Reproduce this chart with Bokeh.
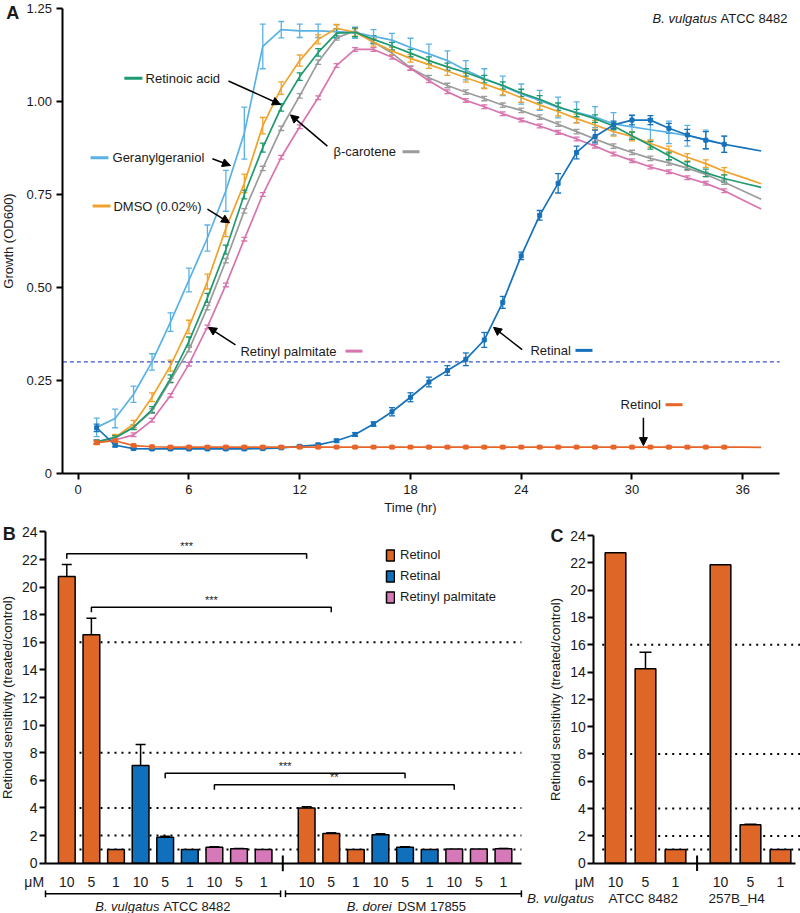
from bokeh.plotting import figure
from bokeh.layouts import column, row
from bokeh.models import (ColumnDataSource, FixedTicker, Range1d, Whisker, TeeHead,
                          Arrow, NormalHead, Legend, LegendItem)
from bokeh.embed import file_html
from bokeh.resources import INLINE
from bokeh.core.properties import value

FONT = "Liberation Sans"
INK = "#1a1a1a"

# ---------------- Panel A data (OD600 growth curves) ----------------
hours = list(range(1, 38))          # time points, hr
hours_err = list(range(1, 36))      # time points with error bars
time_ticks = [0, 6, 12, 18, 24, 30, 36]
od_ticks = [0, 0.25, 0.5, 0.75, 1.0, 1.25]
od_labels = ["0", "0.25", "0.50", "0.75", "1.00", "1.25"]

geranylgeraniol = [0.124, 0.148, 0.213, 0.30, 0.407, 0.52, 0.633, 0.76, 0.915, 1.148,
                   1.193, 1.19, 1.19, 1.188, 1.185, 1.175, 1.165, 1.145, 1.128, 1.11,
                   1.084, 1.062, 1.042, 1.02, 1.003, 0.984, 0.971, 0.958, 0.94, 0.932,
                   0.924, 0.917, 0.908, 0.898, 0.885]
geranylgeraniol_err = [0.025, 0.025, 0.022, 0.022, 0.025, 0.032, 0.035, 0.055, 0.07, 0.06,
                       0.022, 0.018, 0.018, 0.018, 0.015, 0.018, 0.018, 0.025, 0.026, 0.026,
                       0.026, 0.026, 0.026, 0.027, 0.027, 0.028, 0.028, 0.028, 0.03, 0.03,
                       0.03, 0.03, 0.028, 0.025, 0.022]
dmso = [0.083, 0.097, 0.133, 0.205, 0.29, 0.394, 0.516, 0.659, 0.78, 0.935,
        1.036, 1.11, 1.167, 1.197, 1.186, 1.159, 1.136, 1.116, 1.099, 1.082,
        1.064, 1.047, 1.03, 1.01, 0.991, 0.973, 0.954, 0.937, 0.919, 0.906,
        0.887, 0.87, 0.85, 0.833, 0.8125, 0.796, 0.779]
dmso_err = [0.005, 0.008, 0.01, 0.012, 0.015, 0.018, 0.02, 0.022, 0.025, 0.022,
            0.017, 0.015, 0.012, 0.01, 0.01, 0.01, 0.01, 0.01, 0.01, 0.012,
            0.012, 0.012, 0.012, 0.012, 0.012, 0.012, 0.012, 0.012, 0.012, 0.012,
            0.01, 0.01, 0.01, 0.01, 0.01]
retinoic_acid = [0.085, 0.097, 0.124, 0.172, 0.255, 0.355, 0.472, 0.602, 0.75, 0.876,
                 0.984, 1.067, 1.132, 1.184, 1.186, 1.167, 1.149, 1.13, 1.11, 1.093,
                 1.078, 1.06, 1.043, 1.023, 1.006, 0.986, 0.969, 0.954, 0.934, 0.908,
                 0.882, 0.854, 0.828, 0.808, 0.793, 0.781, 0.769]
retinoic_acid_err = [0.005, 0.005, 0.006, 0.008, 0.01, 0.012, 0.012, 0.012, 0.012, 0.012,
                     0.01, 0.01, 0.01, 0.012, 0.012, 0.01, 0.01, 0.01, 0.01, 0.01,
                     0.01, 0.01, 0.01, 0.01, 0.01, 0.01, 0.01, 0.01, 0.01, 0.01,
                     0.01, 0.01, 0.01, 0.01, 0.01]
beta_carotene = [0.085, 0.095, 0.125, 0.168, 0.25, 0.333, 0.446, 0.572, 0.706, 0.82,
                 0.928, 1.015, 1.106, 1.171, 1.19, 1.16, 1.13, 1.09, 1.064, 1.043,
                 1.025, 1.008, 0.99, 0.976, 0.958, 0.939, 0.919, 0.899, 0.88, 0.863,
                 0.847, 0.835, 0.821, 0.804, 0.783, 0.76, 0.737]
beta_carotene_err = [0.006] * 35
retinyl_palmitate = [0.085, 0.09, 0.104, 0.143, 0.21, 0.294, 0.394, 0.507, 0.63, 0.75,
                     0.85, 0.932, 1.01, 1.097, 1.14, 1.14, 1.119, 1.089, 1.056, 1.026,
                     1.003, 0.986, 0.967, 0.95, 0.934, 0.917, 0.899, 0.88, 0.859, 0.841,
                     0.824, 0.811, 0.795, 0.78, 0.76, 0.735, 0.711]
retinyl_palmitate_err = [0.005] * 35
retinal = [0.123, 0.076, 0.067, 0.066, 0.066, 0.066, 0.066, 0.066, 0.066, 0.067,
           0.069, 0.073, 0.077, 0.088, 0.105, 0.133, 0.166, 0.205, 0.246, 0.277,
           0.307, 0.359, 0.46, 0.585, 0.694, 0.78, 0.863, 0.906, 0.937, 0.95,
           0.95, 0.928, 0.91, 0.896, 0.885, 0.876, 0.867]
retinal_err = [0.01, 0.004, 0.003, 0.003, 0.003, 0.003, 0.003, 0.003, 0.003, 0.003,
               0.003, 0.003, 0.004, 0.004, 0.005, 0.006, 0.011, 0.012, 0.013, 0.013,
               0.017, 0.02, 0.016, 0.01, 0.013, 0.026, 0.017, 0.017, 0.01, 0.013,
               0.012, 0.013, 0.015, 0.023, 0.022]
retinol = [0.083, 0.088, 0.075, 0.072] + [0.071] * 32 + [0.070]
retinol_err = [0.003] * 35
threshold_od = 0.30

# ---------------- Panel B data ----------------
conc_labels = ["10", "5", "1"]
b_strain_italic = ["B. vulgatus", "B. dorei"]
b_strain_plain = ["ATCC 8482", "DSM 17855"]
compounds = ["Retinol", "Retinal", "Retinyl palmitate"]
retinol_b = [20.78, 16.55, 1.0, 3.99, 2.15, 1.0]
retinol_b_err = [0.87, 1.2, 0.0, 0.1, 0.05, 0.0]
retinal_b = [7.08, 1.88, 1.0, 2.06, 1.16, 1.0]
retinal_b_err = [1.52, 0.08, 0.0, 0.07, 0.03, 0.0]
palmitate_b = [1.16, 1.05, 1.0, 1.03, 1.03, 1.04]
palmitate_b_err = [0.03, 0.02, 0.0, 0.0, 0.0, 0.03]
fold_levels = [1, 2, 4, 8, 16]
sens_ticks = list(range(0, 25, 2))
# significance comparisons: (compound index, concentration index, stars)
comparisons = [(0, 0, "***"), (0, 1, "***"), (1, 1, "***"), (2, 0, "**")]

# ---------------- Panel C data ----------------
c_species = "B. vulgatus"
c_strains = ["ATCC 8482", "257B_H4"]
retinol_c = [22.74, 14.24, 1.0, 21.86, 2.81, 1.0]
retinol_c_err = [0.0, 1.22, 0.0, 0.0, 0.05, 0.0]

# colours
C_GG, C_DMSO, C_RA = "#5AB2E4", "#F0A32C", "#1E9A70"
C_BC, C_RP, C_RAL, C_ROL = "#9B9B9B", "#D874AE", "#1672BA", "#E8652A"
BAR_COLORS = ["#DE6627", "#1170BB", "#D679B8"]


def style_axis(ax, size):
    ax.axis_line_width = 2
    ax.axis_line_color = "black"
    ax.major_tick_line_width = 2
    ax.major_tick_line_color = "black"
    ax.major_tick_out = 6
    ax.major_tick_in = 0
    ax.minor_tick_line_color = None
    ax.major_label_text_font = FONT
    ax.major_label_text_font_size = size
    ax.major_label_text_color = INK
    ax.axis_label_text_font = FONT
    ax.axis_label_text_font_size = "13px"
    ax.axis_label_text_font_style = "normal"
    ax.axis_label_text_color = INK


def txt(p, x, y, s, size="13px", align="left", style="normal", baseline="middle"):
    p.text(x=[x], y=[y], text=[s], text_font=value(FONT), text_font_size=size,
           text_align=align, text_baseline=baseline, text_font_style=style, text_color=INK)


def panel(width, height, xr, yr, yaxis_x, ybounds, xaxis_bounds, ysize):
    p = figure(width=width, height=height, x_range=Range1d(*xr), y_range=Range1d(*yr),
               output_backend="svg", toolbar_location=None, min_border=0)
    p.grid.grid_line_color = None
    p.outline_line_color = None
    style_axis(p.xaxis[0], ysize)
    style_axis(p.yaxis[0], ysize)
    p.yaxis.fixed_location = yaxis_x
    p.yaxis.bounds = ybounds
    p.xaxis.fixed_location = 0
    p.xaxis.bounds = xaxis_bounds
    return p


# ======================= Panel A =======================
XA0 = -0.83
pA = panel(800, 520, (-4.209, 39.13), (-0.1263, 1.2715), XA0, (0, 1.25), (XA0, 38.0), "13px")
pA.xaxis.ticker = FixedTicker(ticks=time_ticks)
pA.yaxis.ticker = FixedTicker(ticks=od_ticks)
pA.yaxis.major_label_overrides = {t: l for t, l in zip(od_ticks, od_labels)}
pA.yaxis.axis_label = "Growth (OD600)"
pA.xaxis.major_label_standoff = 5
pA.yaxis.major_label_standoff = 5
pA.yaxis.axis_label_standoff = 7
txt(pA, 18, -0.0914, "Time (hr)", align="center")

pA.segment(x0=[XA0], x1=[38.0], y0=[threshold_od], y1=[threshold_od], line_color="#3b52c4",
           line_dash="4 3", line_width=1.3)

series = [
    (geranylgeraniol, geranylgeraniol_err, C_GG, False),
    (beta_carotene, beta_carotene_err, C_BC, False),
    (retinyl_palmitate, retinyl_palmitate_err, C_RP, False),
    (dmso, dmso_err, C_DMSO, False),
    (retinoic_acid, retinoic_acid_err, C_RA, False),
    (retinal, retinal_err, C_RAL, True),
    (retinol, retinol_err, C_ROL, True),
]
for vals, err, col, mark in series:
    pA.line(hours[:len(vals)], vals, line_color=col, line_width=1.7)
    n = len(err)
    src = ColumnDataSource(dict(t=hours_err, up=[v + e for v, e in zip(vals[:n], err)],
                                lo=[v - e for v, e in zip(vals[:n], err)], v=vals[:n]))
    pA.add_layout(Whisker(source=src, base="t", upper="up", lower="lo", line_color=col,
                          line_width=1.3,
                          upper_head=TeeHead(size=6, line_color=col, line_width=1.3),
                          lower_head=TeeHead(size=6, line_color=col, line_width=1.3)))
    if mark:
        pA.scatter("t", "v", source=src, marker="square", size=4, color=col)

# annotation labels (text, x, y, dash x0, dash x1, colour)
ann = [
    ("Retinoic acid", 3.65, 1.0625, 2.5, 3.48, C_RA),
    ("Geranylgeraniol", 1.86, 0.849, 0.67, 1.64, C_GG),
    ("DMSO (0.02%)", 1.91, 0.719, 0.78, 1.75, C_DMSO),
    ("β-carotene", 13.83, 0.865, 17.57, 18.49, C_BC),
    ("Retinyl palmitate", 8.79, 0.329, 14.48, 15.4, C_RP),
    ("Retinal", 24.5, 0.331, 26.94, 27.86, C_RAL),
    ("Retinol", 29.38, 0.185, 31.82, 32.74, C_ROL),
]
for s, x, y, d0, d1, col in ann:
    txt(pA, x, y, s)
    pA.segment(x0=[d0], y0=[y], x1=[d1], y1=[y], line_color=col, line_width=3)

arrows = ColumnDataSource(dict(
    x0=[8.14, 7.27, 7.0, 13.5, 8.52, 24.05, 30.62],
    y0=[1.055, 0.846, 0.711, 0.88, 0.346, 0.333, 0.15],
    x1=[10.96, 8.25, 8.2, 11.5, 7.06, 22.5, 30.62],
    y1=[0.992, 0.828, 0.674, 0.964, 0.393, 0.393, 0.075]))
pA.add_layout(Arrow(source=arrows, x_start="x0", y_start="y0", x_end="x1", y_end="y1",
                    line_width=1.5, line_color="black",
                    end=NormalHead(size=8, fill_color="black", line_color="black")))

txt(pA, 34.6, 1.223, "B. vulgatus", align="right", style="italic")
txt(pA, 34.8, 1.223, "ATCC 8482", align="left")
txt(pA, -3.9, 1.239, "A", size="18px", style="bold")


def bars_with_err(p, xs, tops, errs, color, width, cap):
    r = p.vbar(x=xs, top=tops, bottom=0, width=width, fill_color=color,
               line_color="black", line_width=1.5)
    sel = [i for i, e in enumerate(errs) if e > 0]
    if sel:
        src = ColumnDataSource(dict(x=[xs[i] for i in sel], lo=[tops[i] for i in sel],
                                    up=[tops[i] + errs[i] for i in sel]))
        p.add_layout(Whisker(source=src, base="x", lower="lo", upper="up",
                             line_color="black", line_width=1.5, lower_head=None,
                             upper_head=TeeHead(size=cap, line_color="black", line_width=1.5)))
    return r


def sens_axes(p):
    p.yaxis.ticker = FixedTicker(ticks=sens_ticks)
    p.yaxis.major_label_standoff = 2
    p.yaxis.axis_label = "Retinoid sensitivity (treated/control)"
    p.yaxis.axis_label_standoff = 4
    p.xaxis.ticker = FixedTicker(ticks=[])
    p.xaxis.major_tick_out = 0


# ======================= Panel B =======================
GROUP_GAP = 9.75
YAX_B = -0.866
pB = panel(524, 393, (-2.695, 18.606), (-3.645, 24.83), YAX_B, (0, 24), (YAX_B, 18.48), "14px")
sens_axes(pB)

pB.segment(x0=[0.516] * len(fold_levels), x1=[18.48] * len(fold_levels), y0=fold_levels,
           y1=fold_levels, line_color="black", line_width=2, line_dash="2 5")


def slot(g, c, k):
    return g * GROUP_GAP + c * 3 + k


b_vals = [retinol_b, retinal_b, palmitate_b]
b_errs = [retinol_b_err, retinal_b_err, palmitate_b_err]
b_renderers = []
for c in range(3):
    xs = [slot(g, c, k) for g in range(2) for k in range(3)]
    b_renderers.append(bars_with_err(pB, xs, b_vals[c], b_errs[c], BAR_COLORS[c], 0.68, 10))

# significance brackets
br_levels = [22.42, 18.55, 6.52, 5.68]
for (c, k, stars), lev in zip(comparisons, br_levels):
    xa, xb = slot(0, c, k), slot(1, c, k)
    pB.line([xa, xa, xb, xb], [lev - 0.36, lev, lev, lev - 0.36], line_color="black",
            line_width=1.5)
    txt(pB, (xa + xb) / 2, lev + 0.55, stars, size="11px", align="center")

# concentration labels
for g in range(2):
    for c in range(3):
        for k in range(3):
            txt(pB, slot(g, c, k), -1.377, conc_labels[k], size="14px", align="center")
txt(pB, -1.325, -1.377, "μM", size="14px", align="center")

# strain brackets and labels
for a, b in [(YAX_B, 8.69), (8.89, 18.48)]:
    pB.line([a, b], [-2.217, -2.217], line_color="black", line_width=1.5)
    pB.segment(x0=[a, b], x1=[a, b], y0=[-1.97, -1.97], y1=[-2.46, -2.46],
               line_color="black", line_width=1.5)
txt(pB, 3.77, -3.12, b_strain_italic[0], align="right", style="italic")
txt(pB, 3.93, -3.12, b_strain_plain[0], align="left")
txt(pB, 13.2, -3.12, b_strain_italic[1], align="right", style="italic")
txt(pB, 13.44, -3.12, b_strain_plain[1], align="left")
# axis break
pB.segment(x0=[8.78], x1=[8.78], y0=[-0.58], y1=[0.56], line_color="black", line_width=2)
txt(pB, -2.6, 23.82, "B", size="18px", style="bold")

legB = Legend(items=[LegendItem(label=n, renderers=[r]) for n, r in zip(compounds, b_renderers)],
              location=(385, 309), glyph_width=10, glyph_height=14, label_height=14,
              spacing=6, padding=0, margin=0, border_line_color=None,
              background_fill_alpha=0, label_text_font=FONT, label_text_font_size="13px",
              label_text_color=INK, label_standoff=5)
pB.add_layout(legB)

# ======================= Panel C =======================
YAX_C = -0.723
C_GAP = 3.5
pC = panel(276, 393, (-3.033, 6.167), (-3.685, 25.106), YAX_C, (0, 24), (YAX_C, 6.0), "14px")
sens_axes(pC)
pC.segment(x0=[-0.443] * len(fold_levels), x1=[6.167] * len(fold_levels), y0=fold_levels,
           y1=fold_levels, line_color="black", line_width=2, line_dash="2 5")
xs_c = [g * C_GAP + k for g in range(2) for k in range(3)]
bars_with_err(pC, xs_c, retinol_c, retinol_c_err, BAR_COLORS[0], 0.69, 12)
for x, k in zip(xs_c, [0, 1, 2, 0, 1, 2]):
    txt(pC, x, -1.39, conc_labels[k], size="14px", align="center")
txt(pC, -1.033, -1.39, "μM", size="14px", align="center")
txt(pC, -0.72, -2.58, c_species, size="13.5px", align="right", style="italic")
txt(pC, -0.23, -2.58, c_strains[0], size="13.5px", align="left")
txt(pC, 3.1, -2.58, c_strains[1], size="13.5px", align="left")
pC.segment(x0=[2.72], x1=[2.72], y0=[-0.58], y1=[0.56], line_color="black", line_width=2)
txt(pC, -2.167, 24.0, "C", size="18px", style="bold")

layout = column(pA, row(pB, pC))
open("out.html", "w").write(file_html(layout, INLINE))
